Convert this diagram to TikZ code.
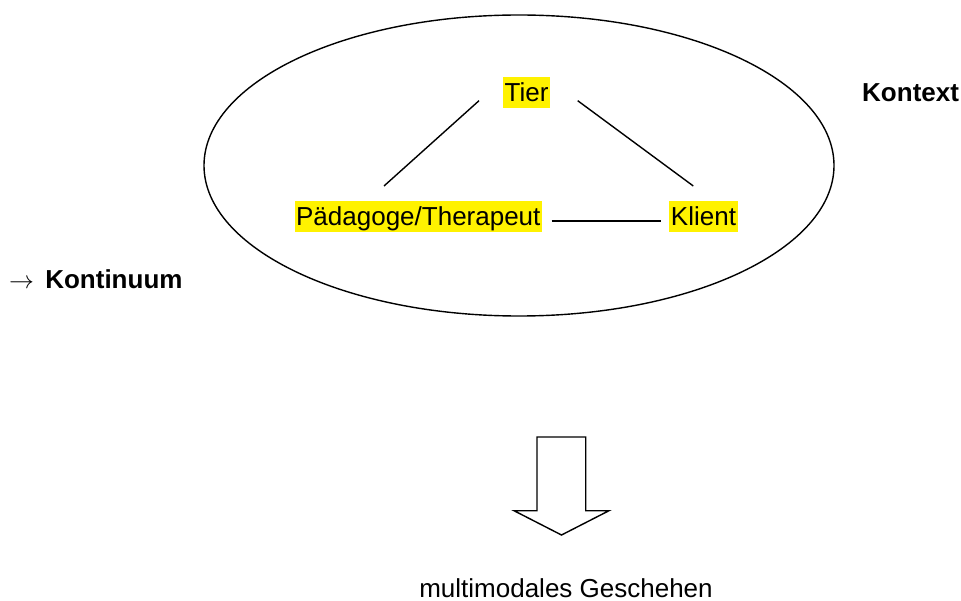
\documentclass[tikz,border=0pt]{standalone}
\usepackage{fontspec}
\setmainfont{Liberation Sans}
\newcommand{\lblsize}{\fontsize{26}{31}\selectfont}
\begin{document}
\begin{tikzpicture}[x=1pt,y=-1pt,
  lbl/.style={inner xsep=1.5pt, inner ysep=0pt, text height=24.5pt, text depth=6pt, font=\lblsize, anchor=base},
  hl/.style={lbl, fill=yellow},
  boldlbl/.style={lbl, inner xsep=0pt, font=\lblsize\bfseries},
  ln/.style={line width=1.4pt}]
\useasboundingbox (0,0) rectangle (961,601);
% context ellipse
\draw[ln] (519,165.5) ellipse [x radius=315, y radius=150.5];
% highlighted actors
\node[hl] (tier) at (526.5,102) {Tier};
\node[hl] (paed) at (418.3,226) {Pädagoge/Therapeut};
\node[hl] (klient) at (703.5,226) {Klient};
% side labels
\node[boldlbl, anchor=base west] (kontext) at (862,102) {Kontext};
\node[boldlbl, anchor=base west] (kontinuum) at (9,289) {$\rightarrow$\hspace{4pt} Kontinuum};
\node[lbl] (geschehen) at (566,597) {multimodales Geschehen};
% connector end points
\coordinate (tl) at (479,100.7);
\coordinate (pl) at (384,186);
\coordinate (tr) at (577.7,100.7);
\coordinate (kr) at (693.3,186);
\coordinate (ph) at (551.7,221);
\coordinate (kh) at (660.7,221);
\draw[ln] (tl) -- (pl);
\draw[ln] (tr) -- (kr);
\draw[ln] (ph) -- (kh);
% block arrow
\draw[ln, line join=miter] (537,437) -- (585.7,437) -- (585.7,510.7) -- (609,510.7)
  -- (561.5,535) -- (514,510.7) -- (537,510.7) -- cycle;
\end{tikzpicture}
\end{document}
